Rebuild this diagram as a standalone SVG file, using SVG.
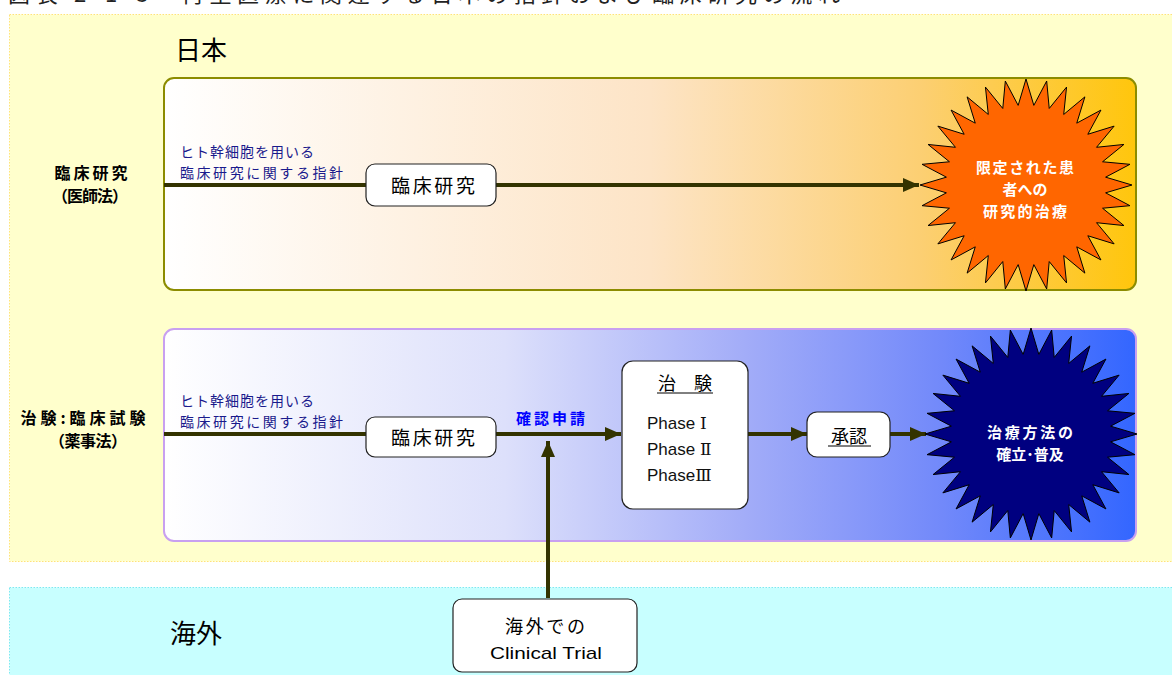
<svg xmlns="http://www.w3.org/2000/svg" width="1172" height="675" viewBox="0 0 1172 675">
<style>
.jp{font-family:"Noto Sans CJK JP","Liberation Sans",sans-serif;}
.lat{font-family:"Liberation Sans","Noto Sans CJK JP",sans-serif;}
.rn{font-family:"DejaVu Serif","Noto Sans CJK JP",serif;}
.box{fill:#ffffff;stroke:#222222;stroke-width:1.2;}
.conn{stroke:#333300;stroke-width:4;fill:none;}
.guide{font-size:14px;fill:#1a1a8c;}
.side{font-size:16px;font-weight:bold;fill:#000;text-anchor:middle;}
.star-t{font-size:15px;font-weight:bold;fill:#fff;text-anchor:middle;}
</style>
<defs>
<linearGradient id="gTop" x1="0" y1="0" x2="1" y2="0">
<stop offset="0" stop-color="#ffffff"/>
<stop offset="0.5" stop-color="#fde4c6"/>
<stop offset="0.78" stop-color="#fccf72"/>
<stop offset="1" stop-color="#ffc60c"/>
</linearGradient>
<linearGradient id="gBot" x1="0" y1="0" x2="1" y2="0">
<stop offset="0" stop-color="#ffffff"/>
<stop offset="0.35" stop-color="#dde0fb"/>
<stop offset="0.6" stop-color="#a2acf8"/>
<stop offset="0.8" stop-color="#7289fa"/>
<stop offset="1" stop-color="#3366ff"/>
</linearGradient>
<marker id="ah" viewBox="0 0 16 14" refX="16" refY="7" markerWidth="16" markerHeight="14" markerUnits="userSpaceOnUse" orient="auto">
<path d="M0,0 L16,7 L0,14 Z" fill="#333300"/>
</marker>
<polygon id="star" stroke="#000" stroke-width="1" points="106,0 79.61,7.84 103.96,20.68 76.56,23.22 97.93,40.56 70.55,37.71 88.14,58.89 61.84,50.75 74.95,74.95 50.75,61.84 58.89,88.14 37.71,70.55 40.56,97.93 23.22,76.56 20.68,103.96 7.84,79.61 0,106 -7.84,79.61 -20.68,103.96 -23.22,76.56 -40.56,97.93 -37.71,70.55 -58.89,88.14 -50.75,61.84 -74.95,74.95 -61.84,50.75 -88.14,58.89 -70.55,37.71 -97.93,40.56 -76.56,23.22 -103.96,20.68 -79.61,7.84 -106,0 -79.61,-7.84 -103.96,-20.68 -76.56,-23.22 -97.93,-40.56 -70.55,-37.71 -88.14,-58.89 -61.84,-50.75 -74.95,-74.95 -50.75,-61.84 -58.89,-88.14 -37.71,-70.55 -40.56,-97.93 -23.22,-76.56 -20.68,-103.96 -7.84,-79.61 0,-106 7.84,-79.61 20.68,-103.96 23.22,-76.56 40.56,-97.93 37.71,-70.55 58.89,-88.14 50.75,-61.84 74.95,-74.95 61.84,-50.75 88.14,-58.89 70.55,-37.71 97.93,-40.56 76.56,-23.22 103.96,-20.68 79.61,-7.84"/>
</defs>

<rect width="1172" height="675" fill="#ffffff"/>
<text class="jp" x="8" y="2" font-size="22" fill="#222" textLength="832" lengthAdjust="spacing">図表 2-1-3　再生医療に関連する日本の指針および臨床研究の流れ</text>

<g id="panel-japan">
<rect x="9.5" y="14.5" width="1170" height="547" fill="#ffffcc" stroke="#ffe27a" stroke-width="1" stroke-dasharray="1.5,1.5"/>
<text class="jp" x="175" y="60" font-size="26" fill="#000">日本</text>
</g>
<g id="panel-overseas">
<rect x="9.5" y="587.5" width="1170" height="100" fill="#c8ffff" stroke="#7fe8f0" stroke-width="1" stroke-dasharray="1.5,1.5"/>
<text class="jp" x="170" y="643" font-size="26" fill="#000">海外</text>
</g>

<g id="lane-clinical">
<rect x="164" y="78" width="972" height="212" rx="10" fill="url(#gTop)" stroke="#8c8c00" stroke-width="2"/>
<text class="jp side" x="91" y="179" textLength="73" lengthAdjust="spacing">臨床研究</text>
<text class="jp side" x="90" y="202" textLength="76" lengthAdjust="spacing">（医師法）</text>
<text class="jp guide" x="180" y="157" textLength="134" lengthAdjust="spacing">ヒト幹細胞を用いる</text>
<text class="jp guide" x="180" y="178" textLength="163" lengthAdjust="spacing">臨床研究に関する指針</text>
</g>
<g id="lane-trial">
<rect x="164" y="329" width="972" height="212" rx="10" fill="url(#gBot)" stroke="#c8a0f0" stroke-width="2"/>
<text class="jp side" x="83" y="424" textLength="125" lengthAdjust="spacing">治験:臨床試験</text>
<text class="jp side" x="88" y="447" textLength="78" lengthAdjust="spacing">（薬事法）</text>
<text class="jp guide" x="180" y="406" textLength="134" lengthAdjust="spacing">ヒト幹細胞を用いる</text>
<text class="jp guide" x="180" y="427" textLength="163" lengthAdjust="spacing">臨床研究に関する指針</text>
</g>

<g id="connectors">
<line class="conn" x1="164" y1="185" x2="919" y2="185" marker-end="url(#ah)"/>
<line class="conn" x1="164" y1="434" x2="621" y2="434" marker-end="url(#ah)"/>
<line class="conn" x1="548" y1="598" x2="548" y2="441" marker-end="url(#ah)"/>
<line class="conn" x1="748" y1="434" x2="807" y2="434" marker-end="url(#ah)"/>
<line class="conn" x1="890" y1="434" x2="926" y2="434" marker-end="url(#ah)"/>
</g>

<g id="node-rinsho-top">
<rect class="box" x="366" y="164" width="130" height="42" rx="9"/>
<text class="jp" x="433" y="193" font-size="19" text-anchor="middle" textLength="84" lengthAdjust="spacing">臨床研究</text>
</g>
<g id="node-star-top">
<use href="#star" x="1026" y="185" fill="#ff6600"/>
<text class="jp star-t" x="1025" y="173" textLength="98" lengthAdjust="spacing">限定された患</text>
<text class="jp star-t" x="1025" y="195">者への</text>
<text class="jp star-t" x="1025" y="217" textLength="84" lengthAdjust="spacing">研究的治療</text>
</g>

<g id="node-rinsho-bottom">
<rect class="box" x="366" y="417" width="130" height="40" rx="9"/>
<text class="jp" x="433" y="445" font-size="19" text-anchor="middle" textLength="84" lengthAdjust="spacing">臨床研究</text>
</g>
<g id="label-kakunin">
<text class="jp" x="516" y="424" font-size="15" font-weight="bold" fill="#0000ff" textLength="69" lengthAdjust="spacing">確認申請</text>
</g>
<g id="node-chiken">
<rect class="box" x="622" y="361" width="126" height="148" rx="11"/>
<text class="jp" x="685" y="390" font-size="18" text-anchor="middle">治　験</text>
<line x1="657" y1="393" x2="713" y2="393" stroke="#000" stroke-width="1"/>
<text class="lat" x="647" y="429" font-size="17" fill="#111">Phase <tspan class="rn">Ⅰ</tspan></text>
<text class="lat" x="647" y="455" font-size="17" fill="#111">Phase <tspan class="rn">Ⅱ</tspan></text>
<text class="lat" x="647" y="481" font-size="17" fill="#111">Phase<tspan class="rn">Ⅲ</tspan></text>
</g>
<g id="node-shonin">
<rect class="box" x="807" y="412" width="83" height="45" rx="10"/>
<text class="jp" x="849" y="443" font-size="18" text-anchor="middle">承認</text>
<line x1="828" y1="446" x2="871" y2="446" stroke="#000" stroke-width="1"/>
</g>
<g id="node-star-bottom">
<use href="#star" x="1031" y="434" fill="#000080"/>
<text class="jp star-t" x="1030" y="438" textLength="86" lengthAdjust="spacing">治療方法の</text>
<text class="jp star-t" x="1030" y="460">確立･普及</text>
</g>

<g id="node-overseas-trial">
<rect class="box" x="453" y="599" width="184" height="73" rx="9"/>
<text class="jp" x="545" y="633" font-size="18" text-anchor="middle" textLength="80" lengthAdjust="spacing">海外での</text>
<text class="lat" x="546" y="659" font-size="17" text-anchor="middle" textLength="112" lengthAdjust="spacingAndGlyphs">Clinical Trial</text>
</g>
</svg>
